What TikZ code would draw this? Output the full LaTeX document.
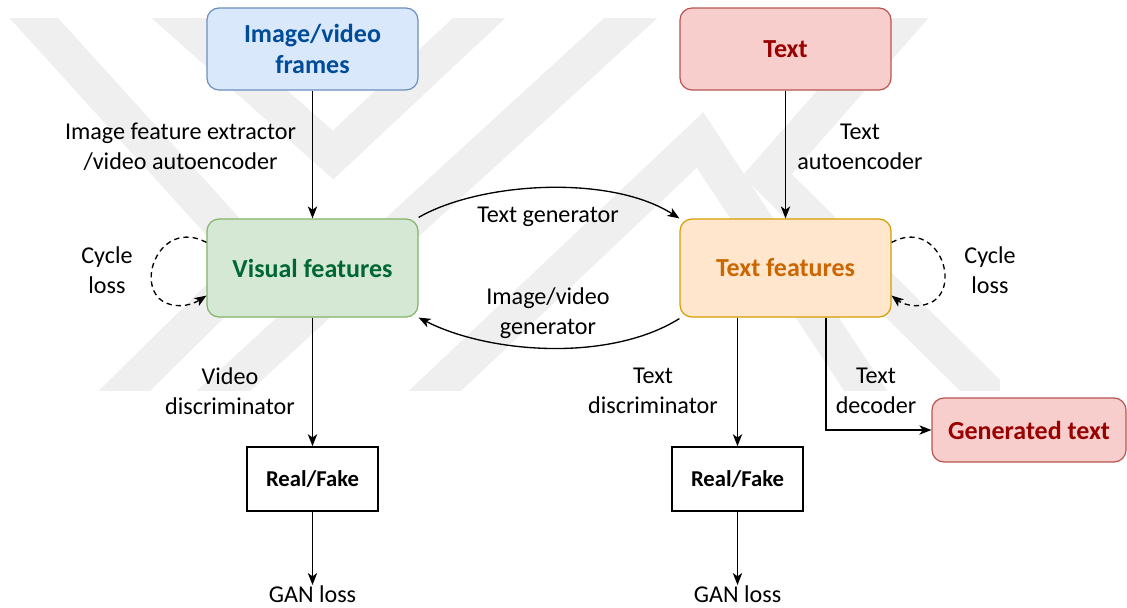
\documentclass[tikz,border=0pt]{standalone}
\usepackage{fontspec}
\setmainfont{Carlito}
\usetikzlibrary{arrows.meta}

\definecolor{bluefill}{HTML}{DAE8FC}
\definecolor{bluedraw}{HTML}{6C8EBF}
\definecolor{bluetext}{HTML}{004C99}
\definecolor{redfill}{HTML}{F8CECC}
\definecolor{reddraw}{HTML}{B85450}
\definecolor{redtext}{HTML}{990000}
\definecolor{greenfill}{HTML}{D5E8D4}
\definecolor{greendraw}{HTML}{82B366}
\definecolor{greentext}{HTML}{006633}
\definecolor{orangefill}{HTML}{FFE6CC}
\definecolor{orangedraw}{HTML}{D79B00}
\definecolor{orangetext}{HTML}{CC6600}
\definecolor{markgray}{HTML}{EFEFEF}

\tikzset{
  box/.style={draw, line width=0.9pt, rounded corners=9pt, align=center,
    font=\fontsize{19.5}{23.5}\selectfont\bfseries,
    minimum width=211*0.75pt, minimum height=82*0.75pt, inner sep=0pt},
  bigbox/.style={box, minimum height=98*0.75pt},
  judge/.style={draw, line width=1.2pt, fill=white, align=center,
    font=\fontsize{17}{20}\selectfont\bfseries,
    minimum width=131*0.75pt, minimum height=64*0.75pt, inner sep=0pt},
  lbl/.style={align=center, font=\fontsize{18.1}{22.2}\selectfont, inner sep=0pt},
  conn/.style={line width=1pt, -{Stealth[length=9pt, width=7pt, inset=2.5pt]}},
  loopconn/.style={conn, dashed, dash pattern=on 4pt off 3pt},
  band/.style={markgray, line width=27pt, line cap=butt, line join=miter},
}

\begin{document}
\begin{tikzpicture}[x=0.75pt, y=-0.75pt]
  \useasboundingbox (0,0) rectangle (1127,607);

  % faint chevron watermark behind the diagram
  \begin{scope}
    \clip (0,18) rectangle (1000,390);
    \draw[band] (22,5) -- (255,262) -- (110,405);
    \draw[band] (164,5) -- (333,155) -- (493,5);
    \draw[band] (208,405) -- (645,5);
    \draw[band] (420,405) -- (700,140) -- (875,405);
    \draw[band] (916,5) -- (767,175) -- (1000,405);
  \end{scope}

  % boxes
  \node[box, fill=bluefill, draw=bluedraw, text=bluetext] (frames) at (312.5,49) {Image/video\\frames};
  \node[box, fill=redfill, draw=reddraw, text=redtext] (text) at (785.5,49) {Text};
  \node[bigbox, fill=greenfill, draw=greendraw, text=greentext] (visual) at (312.5,268) {Visual features};
  \node[bigbox, fill=orangefill, draw=orangedraw, text=orangetext] (tfeat) at (785.5,268) {Text features};
  \node[judge] (rf1) at (312.5,479) {Real/Fake};
  \node[judge] (rf2) at (737.5,479) {Real/Fake};
  \node[box, fill=redfill, draw=reddraw, text=redtext, minimum width=194*0.75pt, minimum height=64*0.75pt] (gen) at (1029,430) {Generated text};

  % loss texts
  \node[lbl, anchor=north] (gan1) at (312.5,585) {GAN loss};
  \node[lbl, anchor=north] (gan2) at (737.5,585) {GAN loss};

  % connectors
  \draw[conn] (frames) -- (visual);
  \draw[conn] (text) -- (tfeat);
  \draw[conn] (visual) -- (rf1);
  \draw[conn] (rf1) -- (gan1);
  \draw[conn] (rf2) -- (gan2);
  \draw[conn] (tfeat.south -| rf2) -- (rf2);
  \draw[conn] (tfeat.south -| 826,0) |- (gen.west);
  \draw[conn] (visual.north east) ++(0,-1) .. controls (480,182) and (610,174) .. (tfeat.north west);
  \draw[conn] (tfeat.south west) ++(0,1) .. controls (610,362) and (490,354) .. (visual.south east);

  % cycle loops
  \draw[loopconn] ([yshift=-24*0.75pt]visual.north west) .. controls (160,218) and (134,285) .. (164,302)
     .. controls (180,310) and (195,303) .. ([yshift=22*0.75pt]visual.south west);
  \draw[loopconn] ([yshift=-24*0.75pt]tfeat.north east) .. controls (937,218) and (962,285) .. (932,302)
     .. controls (916,310) and (901,303) .. ([yshift=22*0.75pt]tfeat.south east);

  % edge labels
  \node[lbl] (l1) at (180.5,147) {Image feature extractor\\/video autoencoder};
  \node[lbl] (l2) at (860,147) {Text\\autoencoder};
  \node[lbl] (l3) at (107,270) {Cycle\\loss};
  \node[lbl] (l4) at (990,270) {Cycle\\loss};
  \node[lbl] (l5) at (548,217) {Text generator};
  \node[lbl] (l6) at (548,313) {Image/video\\generator};
  \node[lbl] (l7) at (230,391) {Video\\discriminator};
  \node[lbl] (l8) at (653,391) {Text\\discriminator};
  \node[lbl] (l9) at (876,391) {Text\\decoder};
\end{tikzpicture}
\end{document}
